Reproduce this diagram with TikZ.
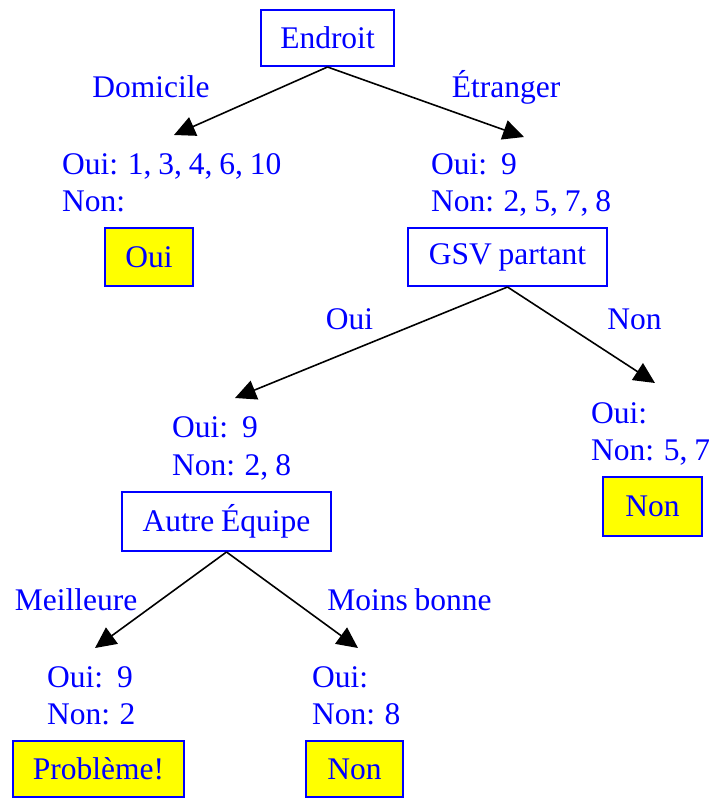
\documentclass[tikz,border=0pt]{standalone}
\usepackage{fontspec}
\setmainfont{Liberation Serif}
\usetikzlibrary{arrows.meta}
\definecolor{tblue}{RGB}{0,0,255}
\definecolor{tyellow}{RGB}{255,255,0}
\newcommand\diagfont{\fontsize{31.5}{37}\selectfont\spaceskip=0.22em plus 0.1em\relax}
\begin{document}
\begin{tikzpicture}[x=1pt,y=-1pt,
  every node/.style={font=\diagfont, text=tblue},
  decbox/.style={draw=tblue, line width=2pt, inner sep=0pt},
  leafbox/.style={decbox, fill=tyellow},
  lbl/.style={anchor=base, inner sep=0pt},
  cnt/.style={anchor=base west, inner sep=0pt},
  arr/.style={draw=black, line width=1.6pt, -{Triangle[length=21pt,width=20pt]}}]
\useasboundingbox (0,0) rectangle (709,798);

% decision and leaf boxes
\node[decbox, minimum width=133pt, minimum height=56pt] (endroit) at (327.5,38) {Endroit};
\node[leafbox, minimum width=88pt, minimum height=58pt] (oui1) at (149,257) {Oui};
\node[decbox, minimum width=199pt, minimum height=58pt] (gsv) at (507.5,257) {GSV partant};
\node[decbox, minimum width=209pt, minimum height=59pt] (autre) at (226.5,521.5) {Autre Équipe};
\node[leafbox, minimum width=99pt, minimum height=59pt] (non1) at (652.5,506.5) {Non};
\node[leafbox, minimum width=171pt, minimum height=56pt] (prob) at (98.5,769) {Problème!};
\node[leafbox, minimum width=97pt, minimum height=56pt] (non2) at (354.5,769) {Non};

% branch labels
\node[lbl] (ldom) at (151,97) {Domicile};
\node[lbl] (letr) at (506,97) {Étranger};
\node[lbl] (loui) at (349.5,329) {Oui};
\node[lbl] (lnon) at (634.5,329) {Non};
\node[lbl] (lmei) at (76,610) {Meilleure};
\node[lbl] (lmoi) at (409.5,610) {Moins bonne};

% counts
\node[cnt] (c1o) at (62,174) {Oui: 1, 3, 4, 6, 10};
\node[cnt] (c1n) at (62,211) {Non:};
\node[cnt] (c2o) at (431,174) {Oui:\ \ 9};
\node[cnt] (c2n) at (431,211) {Non: 2, 5, 7, 8};
\node[cnt] (c3o) at (172,437) {Oui:\ \ 9};
\node[cnt] (c3n) at (172,475) {Non: 2, 8};
\node[cnt] (c4o) at (591,423) {Oui:};
\node[cnt] (c4n) at (591,460) {Non: 5, 7};
\node[cnt] (c5o) at (47,687) {Oui:\ \ 9};
\node[cnt] (c5n) at (47,724) {Non: 2};
\node[cnt] (c6o) at (312,687) {Oui:};
\node[cnt] (c6n) at (312,724) {Non: 8};

% arrow tips
\coordinate (t1) at (174,135);
\coordinate (t2) at (524,137);
\coordinate (t3) at (235,398);
\coordinate (t4) at (655,383);
\coordinate (t5) at (95,648);
\coordinate (t6) at (358,648);

\draw[arr] (endroit.south) -- (t1);
\draw[arr] (endroit.south) -- (t2);
\draw[arr] (gsv.south) -- (t3);
\draw[arr] (gsv.south) -- (t4);
\draw[arr] (autre.south) -- (t5);
\draw[arr] (autre.south) -- (t6);
\end{tikzpicture}
\end{document}
